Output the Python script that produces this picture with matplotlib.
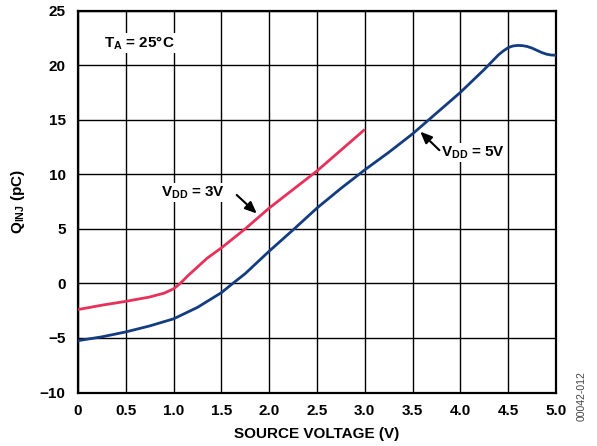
import matplotlib
matplotlib.use("Agg")
import matplotlib.pyplot as plt

# VDD = 3V curve
x_3v = [0.0, 0.25, 0.5, 0.75, 0.9, 1.0, 1.07, 1.15, 1.25, 1.35, 1.5, 1.75, 2.0, 2.25, 2.5, 2.75, 3.0]
q_3v = [-2.4, -2.0, -1.65, -1.25, -0.9, -0.5, 0.0, 0.7, 1.5, 2.3, 3.25, 5.0, 6.9, 8.6, 10.3, 12.2, 14.1]

# VDD = 5V curve
x_5v = [0.0, 0.25, 0.5, 0.75, 1.0, 1.25, 1.5, 1.62, 1.75, 2.0, 2.25, 2.5, 2.75, 3.0, 3.25, 3.5,
        3.75, 4.0, 4.25, 4.3, 4.35, 4.4, 4.45, 4.5, 4.55, 4.6, 4.65, 4.7, 4.75, 4.8, 4.85, 4.9, 4.95, 5.0]
q_5v = [-5.25, -4.9, -4.45, -3.9, -3.25, -2.2, -0.85, 0.0, 0.9, 2.95, 4.9, 6.9, 8.7, 10.4, 12.0, 13.7,
        15.6, 17.5, 19.6, 20.05, 20.5, 20.95, 21.3, 21.6, 21.75, 21.8, 21.78, 21.7, 21.55, 21.35, 21.15,
        21.0, 20.92, 20.9]

x_ticks = [0, 0.5, 1.0, 1.5, 2.0, 2.5, 3.0, 3.5, 4.0, 4.5, 5.0]
x_tick_labels = ["0", "0.5", "1.0", "1.5", "2.0", "2.5", "3.0", "3.5", "4.0", "4.5", "5.0"]
y_ticks = [-10, -5, 0, 5, 10, 15, 20, 25]
y_tick_labels = ["\u221210", "\u22125", "0", "5", "10", "15", "20", "25"]

plt.rcParams['font.family'] = ['Liberation Sans', 'DejaVu Sans']
plt.rcParams['font.weight'] = 'bold'
plt.rcParams['mathtext.fontset'] = 'custom'
plt.rcParams['mathtext.rm'] = 'Liberation Sans:bold'
plt.rcParams['mathtext.bf'] = 'Liberation Sans:bold'
plt.rcParams['mathtext.it'] = 'Liberation Sans:bold'

W, H = 597, 446
fig = plt.figure(figsize=(W / 100, H / 100), dpi=100)
ax = fig.add_axes([78 / W, 1 - 392.5 / H, (556 - 78) / W, (392.5 - 10.5) / H])

ax.plot(x_3v, q_3v, color='#E6315B', lw=2.0, solid_capstyle='butt', solid_joinstyle='round', zorder=3)
ax.plot(x_5v, q_5v, color='#143C80', lw=2.0, solid_capstyle='butt', solid_joinstyle='round', zorder=3)

ax.set_xlim(0, 5)
ax.set_ylim(-10, 25)
ax.set_xticks(x_ticks)
ax.set_xticklabels(x_tick_labels)
ax.set_yticks(y_ticks)
ax.set_yticklabels(y_tick_labels)
ax.tick_params(length=0, labelsize=11, pad=8)
ax.tick_params(axis='y', pad=9)
for lbl in ax.get_xticklabels() + ax.get_yticklabels():
    lbl.set_fontweight('bold')
ax.grid(True, color='black', lw=1.0)
ax.set_axisbelow(True)
for sp in ax.spines.values():
    sp.set_linewidth(1.6)
    sp.set_color('black')

ax.set_xlabel('SOURCE VOLTAGE (V)', fontsize=11, fontweight='bold', labelpad=7)
ax.set_ylabel(r'Q$_{\mathrm{INJ}}$ (pC)', fontsize=11, fontweight='bold', labelpad=9)

txt_kw = dict(fontsize=11, fontweight='bold', va='center', ha='left',
              bbox=dict(facecolor='white', edgecolor='none', pad=1))
ax.text(0.27, 22.0, r'T$_{\mathrm{A}}$ = 25°C', **txt_kw)
ax.text(0.87, 8.3, r'V$_{\mathrm{DD}}$ = 3V', **txt_kw)
ax.text(3.8, 12.0, r'V$_{\mathrm{DD}}$ = 5V', **txt_kw)

ap = dict(arrowstyle='-|>,head_length=0.7,head_width=0.3', color='black', lw=1.5, shrinkA=0, shrinkB=0)
ax.annotate('', xy=(1.87, 6.4), xytext=(1.66, 8.1), arrowprops=ap)
ax.annotate('', xy=(3.58, 13.9), xytext=(3.78, 12.2), arrowprops=ap)

fig.text(582 / W, 1 - 396 / H, '00042-012', rotation=90, fontsize=7.5, fontweight='normal',
         color='#444444', ha='center', va='center')

fig.savefig('out.png', dpi=100)
